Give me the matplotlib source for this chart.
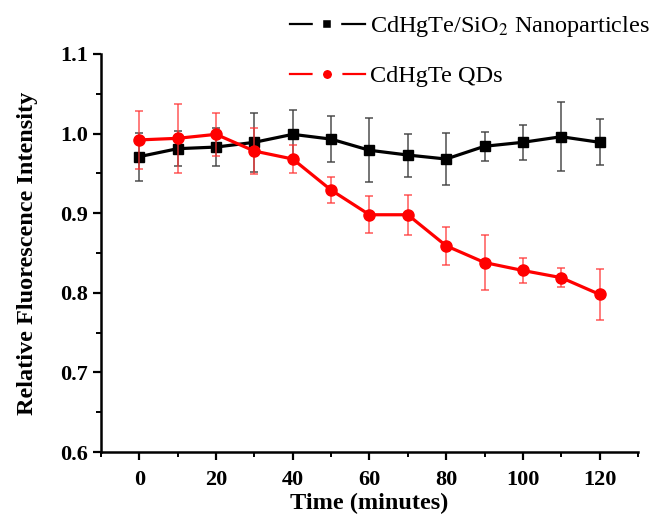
import matplotlib
matplotlib.use("Agg")
import matplotlib.pyplot as plt
from matplotlib.lines import Line2D
from matplotlib.ticker import MultipleLocator, FormatStrFormatter

plt.rcParams["font.family"] = ["Liberation Serif", "DejaVu Serif"]
plt.rcParams["mathtext.fontset"] = "stix"

time_min = [0, 10, 20, 30, 40, 50, 60, 70, 80, 90, 100, 110, 120]
sio2_mean = [0.971, 0.981, 0.983, 0.989, 0.999, 0.993, 0.979, 0.973, 0.968, 0.984, 0.989, 0.996, 0.989]
sio2_err = [0.030, 0.022, 0.024, 0.037, 0.031, 0.029, 0.040, 0.027, 0.033, 0.018, 0.022, 0.043, 0.029]
qds_mean = [0.992, 0.994, 0.999, 0.978, 0.968, 0.929, 0.898, 0.898, 0.859, 0.838, 0.828, 0.819, 0.798]
qds_err = [0.036, 0.043, 0.027, 0.029, 0.017, 0.016, 0.023, 0.025, 0.024, 0.034, 0.016, 0.012, 0.032]

fig = plt.figure(figsize=(6.54, 5.17), dpi=100)
ax = fig.add_axes([0.1544, 0.1257, 0.821, 0.770])

ax.errorbar(time_min, sio2_mean, yerr=sio2_err, color="black", lw=2.3,
            marker="s", ms=7, ecolor=(0.25, 0.25, 0.25, 0.85), elinewidth=1.2,
            capsize=3, capthick=1.2, zorder=3)
ax.errorbar(time_min, qds_mean, yerr=qds_err, color="red", lw=2.3,
            marker="o", ms=8, ecolor=(1, 0.2, 0.2, 0.75), elinewidth=1.2,
            capsize=3, capthick=1.2, zorder=4)

ax.set_xlim(-10, 130)
ax.set_ylim(0.6, 1.1)
ax.xaxis.set_major_locator(MultipleLocator(20))
ax.xaxis.set_minor_locator(MultipleLocator(10))
ax.yaxis.set_major_locator(MultipleLocator(0.1))
ax.yaxis.set_minor_locator(MultipleLocator(0.05))
ax.yaxis.set_major_formatter(FormatStrFormatter("%.1f"))

for s in ["top", "right"]:
    ax.spines[s].set_visible(False)
for s in ["left", "bottom"]:
    ax.spines[s].set_linewidth(1.8)
ax.tick_params(which="major", direction="out", length=6, width=1.6, labelsize=16)
ax.tick_params(axis="x", which="major", pad=7)
ax.tick_params(which="minor", direction="out", length=3.5, width=1.4)
for lab in ax.get_xticklabels() + ax.get_yticklabels():
    lab.set_fontweight("bold")

ax.set_xlabel("Time (minutes)", fontsize=17.5, fontweight="bold", labelpad=2)
ax.set_ylabel("Relative Fluorescence Intensity", fontsize=17.5, fontweight="bold", labelpad=16)

handles = [
    Line2D([], [], color="black", lw=1.6, marker="s", ms=13, mfc="black",
           mec="white", mew=7.5),
    Line2D([], [], color="red", lw=1.6, marker="o", ms=14, mfc="red",
           mec="white", mew=7.5),
]
labels = ["CdHgTe/SiO$_2$ Nanoparticles", "CdHgTe QDs"]
fig.legend(handles, labels, loc="upper left", bbox_to_anchor=(0.443, 0.972),
           frameon=False, fontsize=17.5, handlelength=3.1, handletextpad=0.2,
           labelspacing=1.05, borderaxespad=0, borderpad=0)

fig.savefig("out.png", dpi=100)
